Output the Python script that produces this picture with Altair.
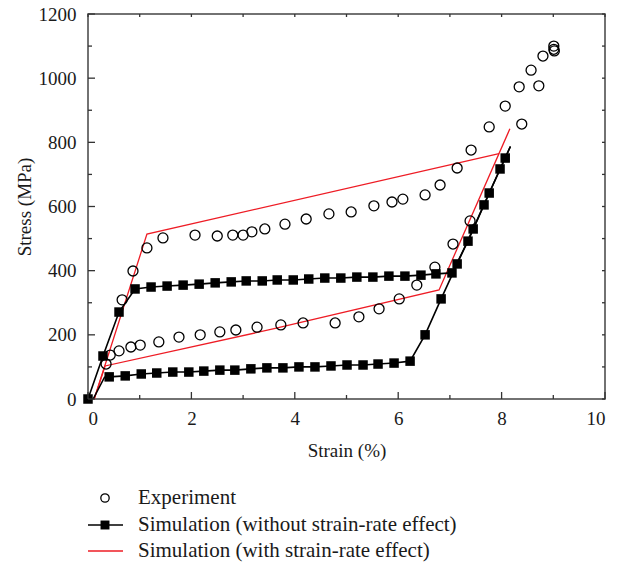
import altair as alt
import pandas as pd

# ---- measured data -------------------------------------------------------
# Experiment (open circles)
exp_strain = [0.35, 0.43, 0.60, 0.83, 1.01, 1.37, 1.76, 2.17, 2.55, 2.86, 3.27,
              3.73, 4.16, 4.78, 5.24, 5.63, 6.02, 6.36, 6.71, 7.06, 7.39,
              0.66, 0.87, 1.14, 1.45, 2.07, 2.50, 2.80, 3.00, 3.17, 3.42, 3.81,
              4.22, 4.66, 5.09, 5.53, 5.88, 6.09, 6.52, 6.81, 7.14, 7.41, 7.76,
              8.07, 8.34, 8.57, 8.80, 9.01, 9.01, 9.02, 8.72, 8.39]
exp_stress = [109, 137, 150, 162, 168, 178, 193, 200, 209, 215, 224,
              231, 237, 237, 256, 281, 312, 355, 411, 483, 555,
              309, 399, 471, 502, 511, 508, 511, 511, 521, 530, 545,
              561, 577, 583, 602, 614, 623, 636, 667, 720, 776, 848,
              913, 973, 1025, 1069, 1100, 1090, 1085, 976, 857]

# Simulation without strain-rate effect: two curves (square markers)
sim_a_strain = [0.00, 0.29, 0.60, 0.91, 1.22, 1.53, 1.84, 2.15, 2.46, 2.77, 3.06,
                3.37, 3.66, 3.97, 4.27, 4.58, 4.89, 5.20, 5.51, 5.82, 6.13,
                6.44, 6.73, 7.04, 7.35, 7.66, 7.97]
sim_a_stress = [0, 134, 271, 343, 349, 352, 355, 358, 362, 365, 368,
                368, 371, 371, 374, 377, 377, 380, 380, 383, 383,
                386, 390, 393, 492, 605, 717]
sim_b_strain = [0.41, 0.72, 1.03, 1.33, 1.64, 1.95, 2.24, 2.55, 2.84, 3.15, 3.46,
                3.77, 4.08, 4.39, 4.70, 5.01, 5.32, 5.61, 5.92, 6.23, 6.52,
                6.83, 7.14, 7.45, 7.76, 8.07]
sim_b_stress = [69, 72, 78, 81, 84, 84, 87, 90, 90, 94, 97,
                97, 100, 100, 103, 106, 106, 109, 112, 118, 200,
                312, 421, 530, 642, 751]
# extra path vertices of curve B (start and yield knee) and the shared end point
sim_b_head_strain = [0.10, 0.32]
sim_b_head_stress = [0, 68]
sim_tip_strain = [8.17]
sim_tip_stress = [787]

# Simulation with strain-rate effect (red polylines)
rate_a_strain = [0.12, 1.14, 7.95]
rate_a_stress = [0, 514, 765]
rate_b_strain = [0.12, 0.33, 3.60, 6.79, 8.16]
rate_b_stress = [0, 103, 219, 340, 842]

# axis ticks
x_major = [0, 2, 4, 6, 8, 10]
x_minor = [1, 3, 5, 7, 9]
y_major = [0, 200, 400, 600, 800, 1000, 1200]
y_minor = [100, 300, 500, 700, 900, 1100]

legend_labels = ["Experiment",
                 "Simulation (without strain-rate effect)",
                 "Simulation (with strain-rate effect)"]

# ---- layout --------------------------------------------------------------
W, H = 517, 385
FONT = "Liberation Serif"
RED = "#ee1c25"
TXT = "#1a1a1a"

xs = alt.Scale(domain=[0, 10], nice=False)
ys = alt.Scale(domain=[0, 1200], nice=False)


def frame(xv, yv, name):
    return pd.DataFrame({"strain": xv, "stress": yv, "series": name})


exp_df = frame(exp_strain, exp_stress, "exp")
sa_df = frame(sim_a_strain, sim_a_stress, "a")
sb_df = frame(sim_b_strain, sim_b_stress, "b")
sa_line = pd.concat([sa_df, frame(sim_tip_strain, sim_tip_stress, "a")], ignore_index=True)
sb_line = pd.concat([frame(sim_b_head_strain, sim_b_head_stress, "b"), sb_df,
                     frame(sim_tip_strain, sim_tip_stress, "b")], ignore_index=True)
sa_line["order"] = range(len(sa_line))
sb_line["order"] = range(len(sb_line))
ra_df = frame(rate_a_strain, rate_a_stress, "ra")
rb_df = frame(rate_b_strain, rate_b_stress, "rb")
ra_df["order"] = range(len(ra_df))
rb_df["order"] = range(len(rb_df))

axis_style = dict(tickSize=0, domain=False, grid=False, format="d",
                  labelFont=FONT, labelFontSize=19, labelColor=TXT,
                  titleFont=FONT, titleFontSize=19, titleColor=TXT,
                  titleFontWeight="normal")
X = alt.X("strain:Q", scale=xs,
          axis=alt.Axis(values=x_major, labelPadding=10, title="Strain (%)",
                        titlePadding=13, **axis_style))
Y = alt.Y("stress:Q", scale=ys,
          axis=alt.Axis(values=y_major, labelPadding=12, title="Stress (MPa)",
                        titlePadding=4, **axis_style))

base_axes = alt.Chart(pd.DataFrame({"strain": [0, 10], "stress": [0, 1200]})).mark_point(
    opacity=0).encode(x=X, y=Y)

line_a = alt.Chart(sa_line).mark_line(color="black", strokeWidth=1.6).encode(
    x="strain:Q", y="stress:Q", order="order:Q")
line_b = alt.Chart(sb_line).mark_line(color="black", strokeWidth=1.6).encode(
    x="strain:Q", y="stress:Q", order="order:Q")
red_a = alt.Chart(ra_df).mark_line(color=RED, strokeWidth=1.3).encode(
    x="strain:Q", y="stress:Q", order="order:Q")
red_b = alt.Chart(rb_df).mark_line(color=RED, strokeWidth=1.3).encode(
    x="strain:Q", y="stress:Q", order="order:Q")
sq_a = alt.Chart(sa_df).mark_point(shape="square", filled=True, color="black",
                                   size=90, opacity=1).encode(x="strain:Q", y="stress:Q")
sq_b = alt.Chart(sb_df).mark_point(shape="square", filled=True, color="black",
                                   size=90, opacity=1).encode(x="strain:Q", y="stress:Q")
circles = alt.Chart(exp_df).mark_point(shape="circle", filled=False, color="black",
                                       size=100, strokeWidth=1.3, opacity=1).encode(
    x="strain:Q", y="stress:Q")


# inward tick marks on all four sides
def ticks_x(vals, y0, y1):
    return alt.Chart(pd.DataFrame({"v": vals})).mark_rule(color="#333", strokeWidth=1.3).encode(
        x=alt.X("v:Q", scale=xs), y=alt.value(y0), y2=alt.value(y1))


def ticks_y(vals, x0, x1):
    return alt.Chart(pd.DataFrame({"v": vals})).mark_rule(color="#333", strokeWidth=1.3).encode(
        y=alt.Y("v:Q", scale=ys), x=alt.value(x0), x2=alt.value(x1))


tick_layers = [
    ticks_x(x_major, H, H - 7), ticks_x(x_minor, H, H - 4),
    ticks_x(x_major + x_minor, 0, 3),
    ticks_y(y_major, 0, 7), ticks_y(y_minor, 0, 4),
    ticks_y(y_major + y_minor, W, W - 3),
]

# legend below the plot
LX, LT = 50, 17
rows = [484, 511, 537]
leg_layers = []
for i, lab in enumerate(legend_labels):
    one = alt.Chart(pd.DataFrame({"label": [lab]}))
    leg_layers.append(one.mark_text(align="left", baseline="middle", font=FONT,
                                    fontSize=21, color=TXT).encode(
        x=alt.value(LX), y=alt.value(rows[i]), text="label:N"))
leg_layers.append(alt.Chart(pd.DataFrame({"label": [legend_labels[0]]})).mark_point(
    shape="circle", filled=False, color="black", size=70, strokeWidth=1.3, opacity=1).encode(
    x=alt.value(LT), y=alt.value(rows[0])))
leg_layers.append(alt.Chart(pd.DataFrame({"label": [legend_labels[1]]})).mark_rule(
    color="black", strokeWidth=1.6).encode(x=alt.value(0), x2=alt.value(35), y=alt.value(rows[1])))
leg_layers.append(alt.Chart(pd.DataFrame({"label": [legend_labels[1]]})).mark_point(
    shape="square", filled=True, color="black", size=80, opacity=1).encode(
    x=alt.value(LT), y=alt.value(rows[1])))
leg_layers.append(alt.Chart(pd.DataFrame({"label": [legend_labels[2]]})).mark_rule(
    color=RED, strokeWidth=1.3).encode(x=alt.value(0), x2=alt.value(35), y=alt.value(rows[2])))

chart = alt.layer(
    base_axes, red_a, red_b, line_a, line_b, sq_a, sq_b, circles,
    *tick_layers, *leg_layers
).properties(
    width=W, height=H,
    autosize=alt.AutoSizeParams(type="none"),
    padding={"left": 88, "top": 14, "right": 33, "bottom": 166},
    background="white",
).configure(
    font=FONT
).configure_view(
    stroke="#444", strokeWidth=1.5
)

chart.save("out.html", embed_options={"renderer": "svg", "actions": False})
